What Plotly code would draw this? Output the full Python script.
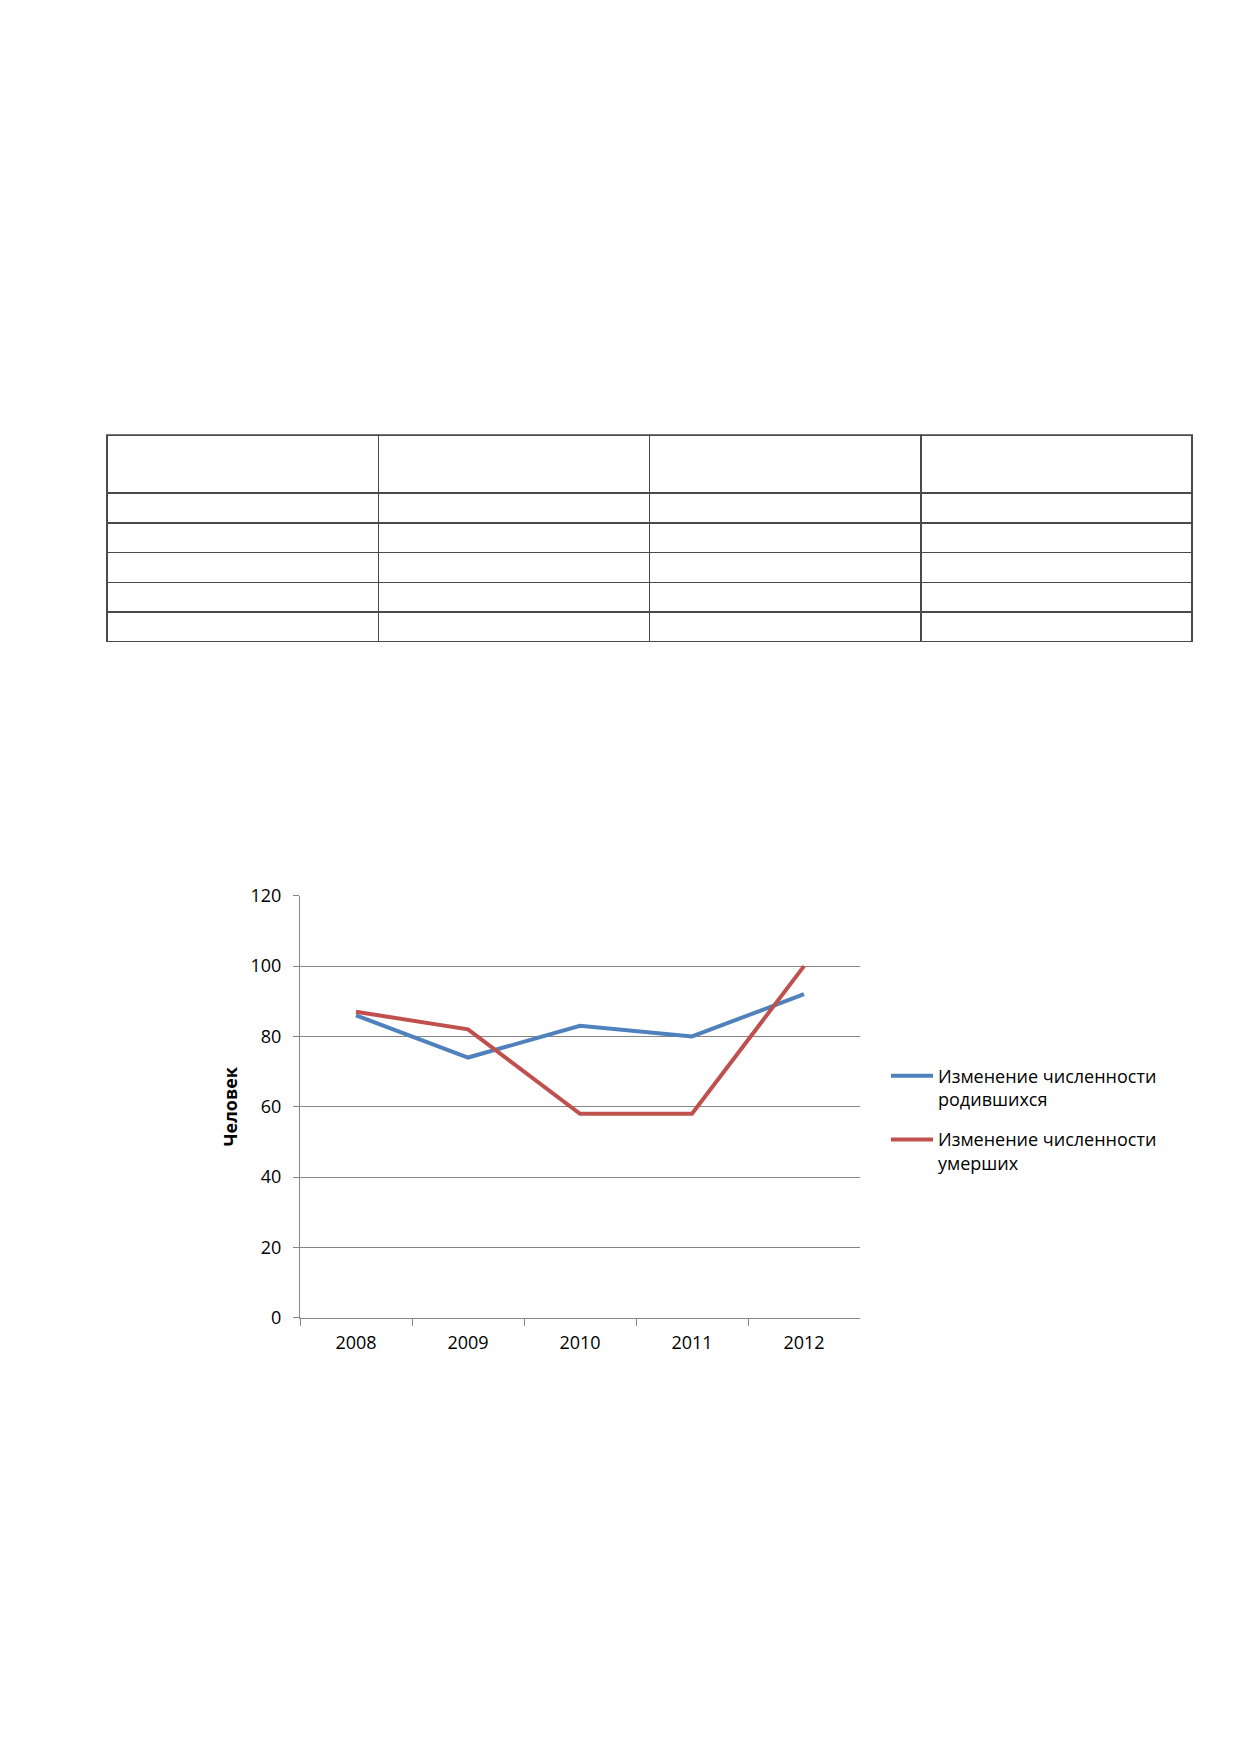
import plotly.graph_objects as go

years = ["2008", "2009", "2010", "2011", "2012"]
born = [86, 74, 83, 80, 92]
died = [87, 82, 58, 58, 100]
series_names = ["Изменение численности<br>родившихся", "Изменение численности<br>умерших"]
y_ticks = [0, 20, 40, 60, 80, 100, 120]
y_title = "Человек"

# empty table (4 columns, header + 5 rows)
n_cols = 4
n_rows = 5

PAGE_W, PAGE_H = 1239, 1752
OFF = 8  # default body margin of the html page
W, H = PAGE_W - 2 * OFF, PAGE_H - 2 * OFF
FONT = "Open Sans"

def px_x(v):
    return (v - OFF) / W

def px_y(v):
    return 1 - (v - OFF) / H

fig = go.Figure()

fig.add_trace(go.Table(
    domain=dict(x=[px_x(107), px_x(1192)], y=[px_y(639), px_y(428)]),
    columnwidth=[1] * n_cols,
    header=dict(values=[""] * n_cols, height=58, fill_color="white",
                line=dict(color="#4a4a4a", width=1.5)),
    cells=dict(values=[[""] * n_rows for _ in range(n_cols)], height=29.7,
               fill_color="white", line=dict(color="#4a4a4a", width=1.5)),
))

fig.add_trace(go.Scatter(x=years, y=born, mode="lines", name=series_names[0],
                         line=dict(color="#4F81BD", width=4), legendgroup="a"))
fig.add_trace(go.Scatter(x=years, y=died, mode="lines", name=series_names[1],
                         line=dict(color="#C0504D", width=4), legendgroup="b"))

fig.update_layout(
    width=W, height=H,
    margin=dict(l=0, r=0, t=0, b=0),
    paper_bgcolor="white", plot_bgcolor="white",
    font=dict(family=FONT, size=18, color="#000000"),
    showlegend=True,
    legend=dict(x=px_x(886), xanchor="left", y=px_y(1059), yanchor="top",
                valign="top", itemwidth=42, tracegroupgap=14,
                font=dict(family=FONT, size=18, color="#000000"),
                bgcolor="rgba(0,0,0,0)"),
    xaxis=dict(domain=[px_x(300), px_x(860)], type="category",
               showgrid=False, showline=True, linecolor="#868686", linewidth=1,
               ticks="outside", ticklen=7, tickcolor="#868686",
               tickson="boundaries", ticklabelstandoff=9,
               tickfont=dict(family=FONT, size=18, color="#000000"),
               zeroline=False, range=[-0.5, 4.5], anchor="y"),
    yaxis=dict(domain=[px_y(1323), px_y(895)], range=[0, 120],
               tickvals=y_ticks, showgrid=True, gridcolor="#868686", gridwidth=1,
               showline=True, linecolor="#868686", linewidth=1,
               ticks="outside", ticklen=6, tickcolor="#868686",
               ticklabelstandoff=8,
               tickfont=dict(family=FONT, size=18, color="#000000"),
               zeroline=False, anchor="x",
               title=dict(text="<b>" + y_title + "</b>", standoff=8,
                          font=dict(family=FONT, size=18, color="#000000"))),
)

fig.write_html("out.html")
